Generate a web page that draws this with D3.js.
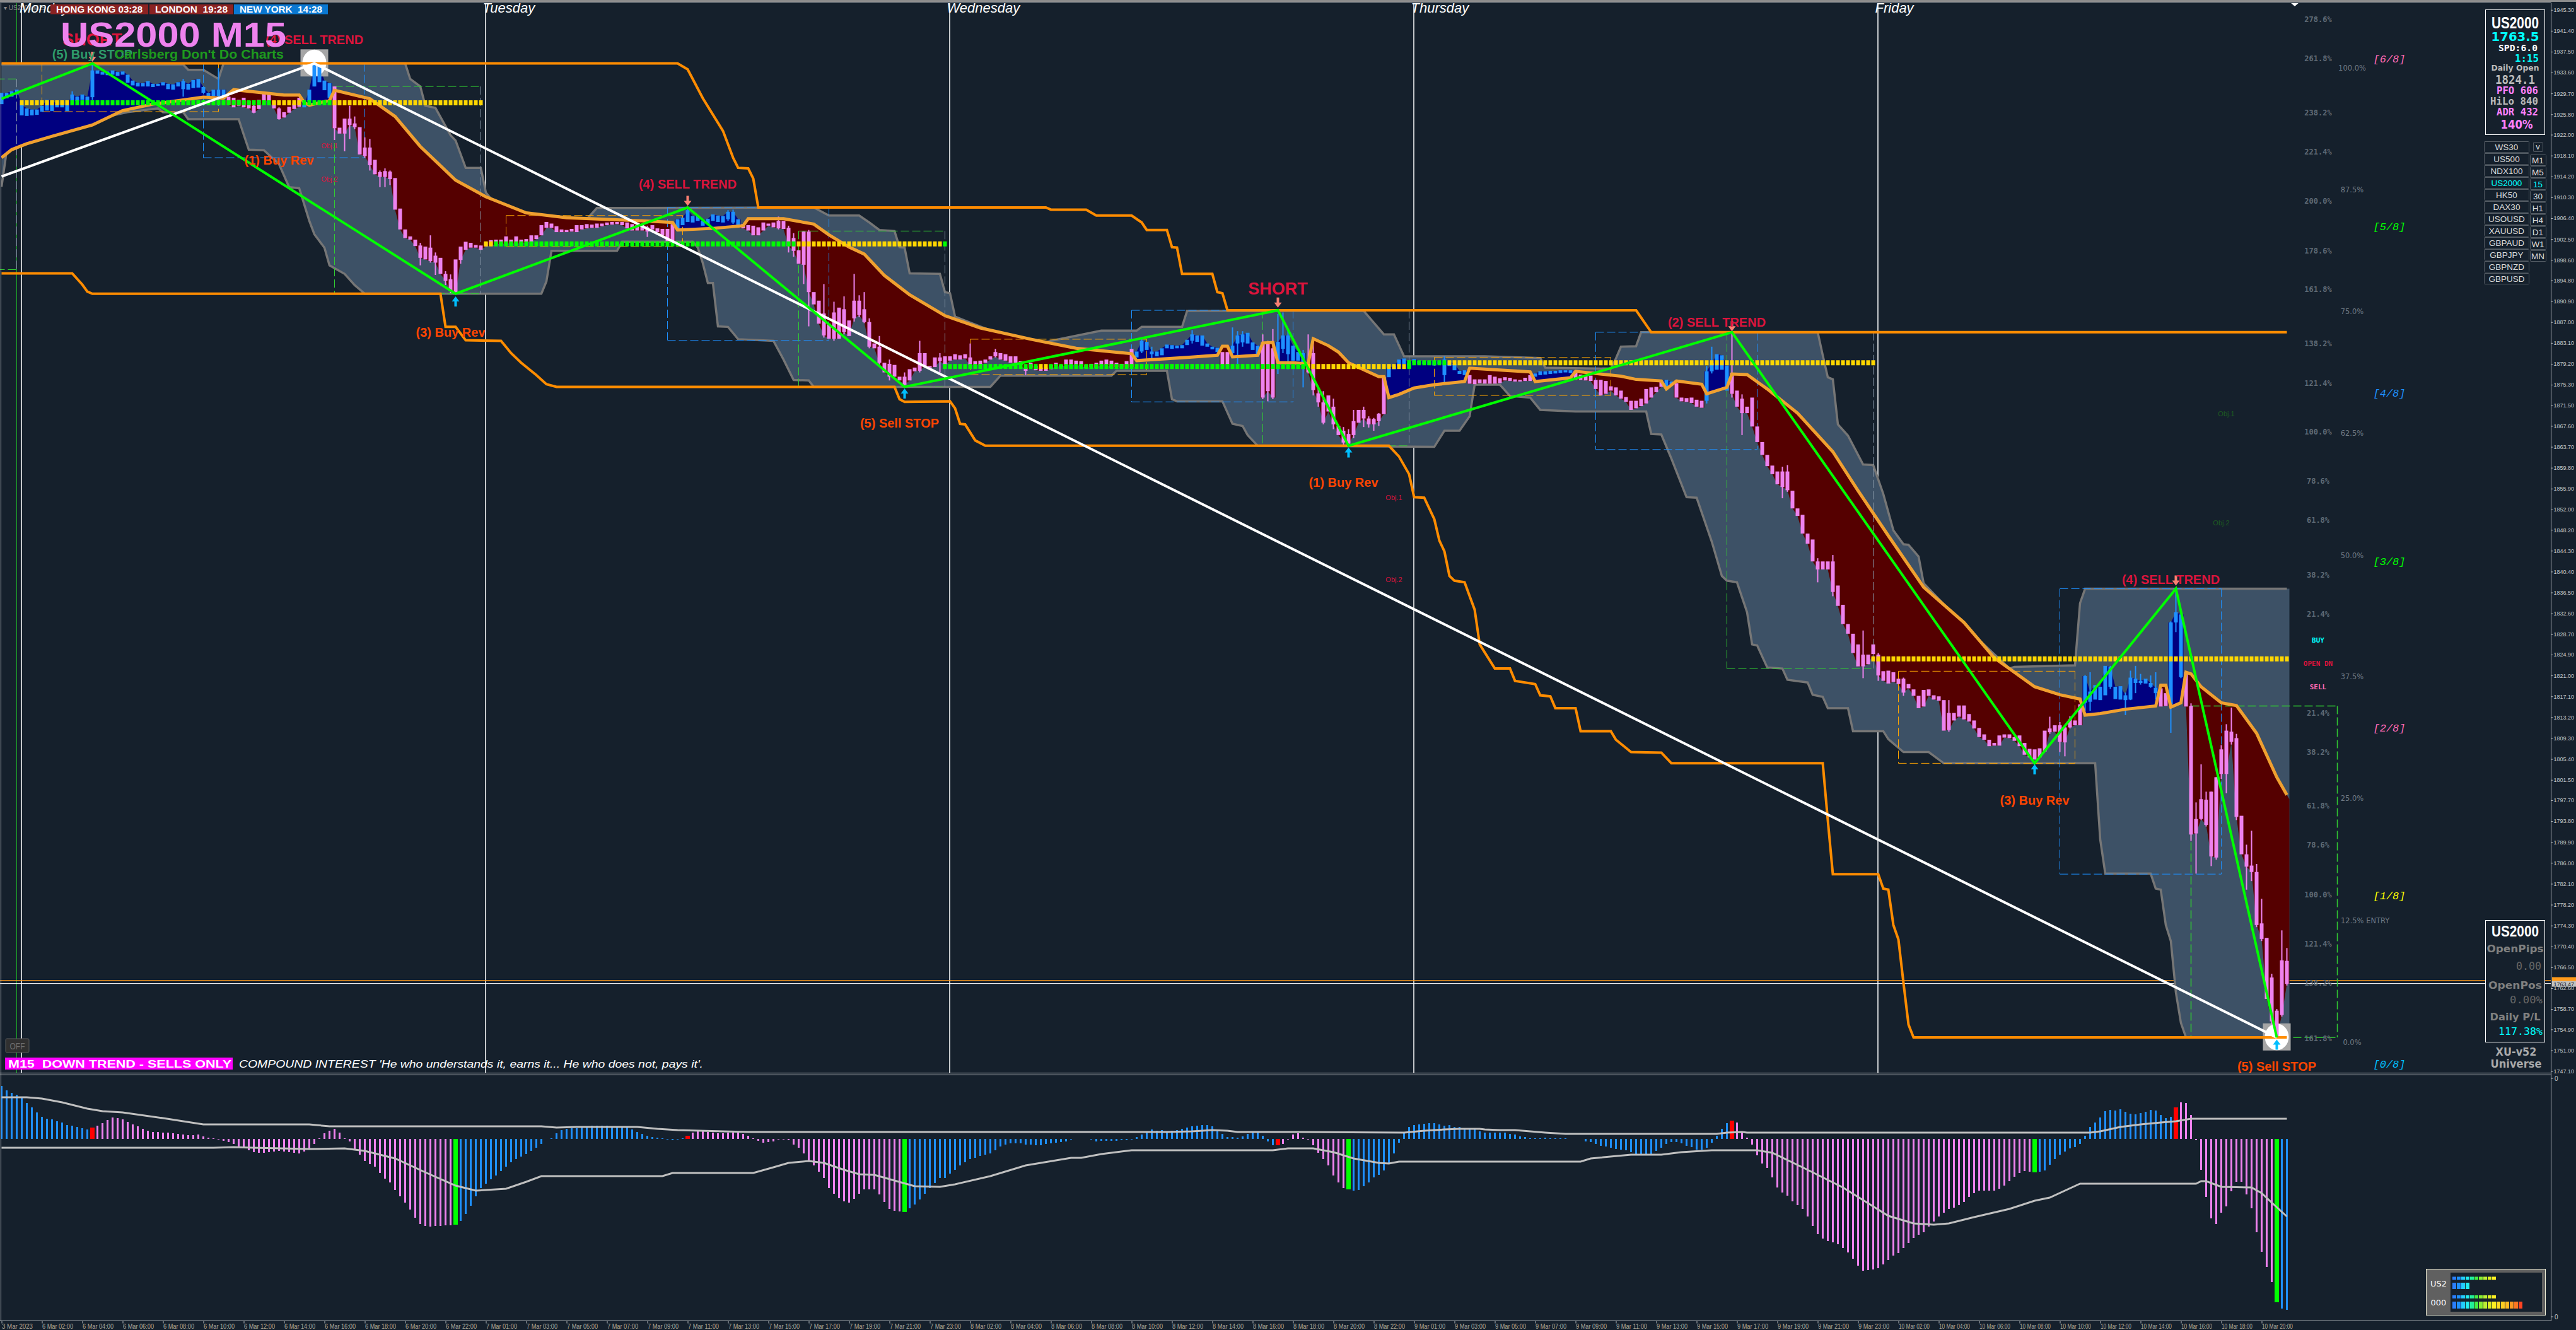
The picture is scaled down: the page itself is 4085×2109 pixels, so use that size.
<!DOCTYPE html>
<html>
<head>
<meta charset="utf-8">
<title>US2000 M15</title>
<script src="https://cdn.jsdelivr.net/npm/d3@7"></script>
<style>
  html, body { margin: 0; padding: 0; background: #15202c; }
  svg { display: block; }
  text { white-space: pre; }
</style>
</head>
<body>
<div id="chart"></div>
<script>
// ---- candles (one per 15 minute bar, 454 bars)
var opens = [1927.7,1928.8,1929.1,1929.5,1925.6,1925.5,1925.6,1925.7,1926.3,1926.5,1926.4,1927.1,1927.1,1926.4,1928.4,1928.3,1928.5,1928.4,1929.0,1933.4,
1933.2,1933.1,1933.2,1933.0,1933.2,1931.7,1931.2,1931.0,1931.0,1931.0,1930.9,1931.1,1931.2,1930.5,1930.4,1931.0,1930.5,1930.4,1930.7,1930.8,
1929.8,1929.1,1929.2,1929.2,1929.2,1929.1,1928.9,1928.5,1928.9,1928.3,1927.4,1928.5,1929.6,1929.5,1928.3,1926.9,1926.2,1927.2,1927.8,1928.9,
1927.1,1928.3,1931.0,1931.8,1930.3,1928.9,1931.0,1923.3,1925.0,1925.0,1924.1,1923.4,1919.6,1919.6,1917.3,1915.0,1915.2,1915.1,1913.9,1908.2,
1904.3,1903.0,1902.4,1901.3,1901.1,1900.9,1899.4,1899.0,1896.0,1895.0,1898.7,1901.1,1902.0,1901.8,1901.4,1901.3,1901.9,1902.3,1902.4,1902.4,
1903.0,1902.4,1903.0,1902.4,1902.5,1903.2,1903.2,1905.1,1905.7,1905.4,1904.9,1904.3,1904.2,1904.4,1905.1,1905.1,1905.3,1905.2,1905.4,1905.4,
1905.6,1905.7,1905.7,1905.7,1905.6,1905.3,1905.1,1905.2,1904.7,1905.1,1904.5,1904.4,1904.4,1905.3,1904.4,1905.1,1905.7,1905.6,1905.9,1905.0,
1905.3,1905.9,1905.7,1905.6,1906.2,1905.6,1905.1,1905.3,1905.1,1905.0,1904.7,1905.6,1905.4,1905.6,1905.9,1905.9,1904.6,1902.7,1900.4,1903.9,
1903.9,1892.6,1891.0,1888.6,1886.7,1888.8,1889.7,1889.4,1887.3,1891.0,1891.0,1889.4,1887.0,1883.0,1882.4,1879.4,1879.2,1879.0,1876.8,1876.8,
1878.2,1878.5,1881.2,1881.2,1878.8,1880.4,1880.4,1880.6,1880.6,1881.0,1880.8,1881.0,1880.4,1879.7,1879.8,1880.0,1880.6,1881.4,1881.2,1881.0,
1880.6,1880.6,1879.7,1878.5,1879.4,1878.8,1878.5,1878.5,1879.0,1879.4,1879.0,1880.0,1880.0,1879.8,1879.7,1879.0,1879.2,1879.4,1879.8,1880.0,
1879.8,1879.4,1879.2,1879.7,1882.0,1880.4,1881.5,1881.8,1881.0,1880.6,1880.8,1882.1,1882.0,1882.1,1882.1,1882.7,1883.5,1883.3,1882.6,1882.4,
1881.9,1881.4,1881.4,1881.4,1881.2,1883.0,1883.2,1883.0,1881.8,1880.8,1883.2,1883.0,1882.1,1879.4,1882.0,1881.0,1879.8,1879.8,1879.2,1879.2,
1881.2,1873.7,1872.0,1873.3,1871.2,1867.6,1866.7,1866.1,1868.5,1870.6,1870.6,1869.0,1868.9,1869.9,1876.8,1876.7,1878.2,1878.8,1879.2,1878.5,
1879.4,1879.2,1879.2,1879.0,1878.9,1879.2,1877.1,1878.8,1878.0,1877.3,1877.1,1877.1,1876.3,1876.3,1876.3,1877.1,1876.8,1876.5,1876.7,1876.6,
1876.3,1876.2,1876.6,1877.1,1876.8,1877.1,1877.2,1877.3,1877.4,1877.5,1877.6,1877.5,1877.9,1877.2,1877.0,1877.0,1876.2,1876.2,1876.0,1875.0,
1874.8,1874.2,1873.0,1872.3,1872.3,1872.7,1874.5,1874.8,1874.9,1876.0,1874.8,1875.3,1875.6,1872.9,1872.8,1872.9,1872.5,1872.3,1872.3,1877.8,
1878.1,1878.1,1874.2,1877.5,1874.2,1872.7,1871.2,1872.9,1867.5,1864.6,1862.2,1860.2,1859.1,1859.1,1859.1,1855.5,1852.2,1851.0,1847.5,1846.4,
1842.3,1842.3,1842.3,1842.3,1837.8,1834.2,1830.6,1828.8,1826.8,1824.9,1824.9,1826.8,1824.9,1821.8,1821.9,1821.6,1820.4,1820.4,1819.4,1818.4,
1817.2,1818.3,1818.4,1817.3,1817.1,1816.4,1814.0,1814.0,1815.4,1815.4,1813.8,1812.6,1811.2,1810.0,1809.0,1808.4,1809.8,1810.0,1810.0,1809.5,
1809.8,1808.4,1807.3,1807.2,1807.4,1810.7,1811.1,1811.7,1811.7,1811.3,1812.8,1812.6,1815.6,1815.9,1816.1,1816.5,1816.4,1817.3,1818.9,1816.6,
1816.5,1816.4,1816.5,1819.6,1819.6,1819.5,1818.9,1817.7,1818.6,1817.7,1815.6,1830.9,1820.7,1821.6,1815.3,1794.2,1797.9,1797.8,1799.3,1802.0,
1807.2,1810.7,1810.5,1809.3,1794.8,1787.6,1785.5,1784.3,1774.7,1772.0,1764.6,1758.4,1767.8,1767.7];
var closes = [1929.8,1929.8,1930.1,1930.4,1927.6,1926.9,1926.7,1926.7,1927.4,1928.5,1928.4,1927.7,1927.5,1927.5,1929.5,1929.1,1929.5,1929.1,1934.0,1934.0,
1933.7,1933.8,1934.0,1933.7,1933.8,1933.2,1932.1,1931.7,1931.6,1932.0,1931.5,1931.5,1931.8,1931.5,1931.4,1931.8,1932.0,1931.5,1932.2,1932.4,
1930.9,1929.8,1930.4,1930.4,1930.4,1927.5,1927.1,1927.4,1927.1,1926.9,1926.1,1926.8,1928.4,1928.3,1926.9,1924.9,1925.2,1926.1,1926.8,1927.2,
1927.5,1930.4,1935.0,1934.8,1932.1,1931.6,1923.2,1922.2,1922.2,1923.8,1923.4,1918.3,1918.0,1916.3,1914.6,1914.1,1914.1,1913.7,1908.0,1904.3,
1902.7,1902.4,1901.2,1899.0,1898.7,1898.4,1898.1,1896.0,1894.7,1892.8,1892.2,1898.6,1900.5,1900.9,1900.9,1900.5,1901.1,1901.3,1901.6,1901.6,
1901.7,1901.7,1901.7,1901.7,1901.9,1902.0,1902.5,1903.2,1904.6,1904.6,1903.8,1903.8,1903.8,1903.9,1903.8,1904.3,1904.5,1904.6,1904.6,1904.9,
1905.1,1905.2,1905.3,1905.1,1904.5,1904.1,1904.1,1904.1,1903.9,1904.3,1903.8,1903.2,1902.1,1902.1,1906.2,1906.5,1907.9,1906.8,1906.8,1905.9,
1906.3,1907.1,1906.9,1906.8,1907.6,1907.6,1906.2,1904.5,1904.1,1903.2,1903.2,1904.1,1905.0,1904.7,1904.5,1904.4,1901.2,1900.3,1897.9,1897.7,
1892.6,1890.3,1886.7,1884.5,1883.9,1883.9,1883.9,1885.1,1884.4,1887.7,1888.3,1887.0,1882.4,1882.1,1879.4,1877.6,1876.8,1876.8,1876.1,1875.3,
1876.1,1877.8,1877.9,1878.8,1878.5,1878.6,1879.7,1879.0,1879.8,1880.0,1880.0,1880.2,1879.0,1879.0,1879.0,1879.4,1880.0,1880.6,1880.0,1879.8,
1879.4,1879.4,1879.0,1877.9,1878.5,1878.0,1877.9,1877.9,1878.2,1878.8,1878.6,1879.0,1879.0,1879.0,1878.8,1878.5,1878.6,1878.5,1879.0,1879.0,
1878.5,1878.6,1878.5,1878.5,1878.6,1881.5,1883.5,1883.3,1881.5,1881.5,1882.1,1882.8,1882.7,1882.6,1882.7,1883.7,1884.7,1884.5,1884.5,1883.0,
1882.4,1882.2,1879.0,1879.0,1882.6,1884.5,1884.7,1885.0,1883.2,1882.6,1872.9,1874.1,1872.9,1883.3,1884.5,1884.5,1882.6,1881.4,1881.2,1877.6,
1874.3,1872.0,1868.2,1870.3,1867.9,1865.9,1864.5,1864.3,1865.9,1868.2,1869.0,1867.9,1867.9,1868.5,1869.8,1878.5,1878.8,1880.0,1880.2,1879.4,
1880.1,1879.8,1879.7,1879.7,1879.8,1879.7,1880.0,1879.7,1879.2,1877.9,1878.0,1875.5,1875.4,1875.6,1875.5,1875.5,1875.5,1875.6,1876.1,1876.0,
1875.9,1875.9,1876.0,1876.0,1877.4,1877.8,1877.8,1877.9,1877.9,1878.0,1878.0,1878.0,1876.2,1876.2,1876.1,1876.0,1874.5,1873.3,1873.6,1874.2,
1873.3,1872.7,1872.1,1870.6,1870.9,1871.3,1871.8,1872.9,1873.9,1874.9,1876.2,1875.9,1872.9,1872.2,1872.1,1871.9,1871.2,1871.0,1877.8,1879.3,
1881.0,1880.8,1878.9,1873.6,1871.2,1870.0,1870.0,1867.5,1864.6,1862.2,1860.1,1858.6,1856.7,1856.2,1855.6,1852.2,1850.8,1847.5,1845.6,1842.3,
1840.8,1840.8,1840.8,1836.6,1834.0,1830.6,1828.8,1825.2,1822.7,1822.7,1823.1,1825.0,1821.0,1820.0,1819.5,1819.8,1819.4,1817.8,1818.6,1817.2,
1814.9,1815.2,1817.2,1816.5,1816.3,1810.7,1810.8,1812.6,1813.3,1812.8,1812.4,1811.1,1809.5,1809.0,1807.8,1807.9,1807.9,1809.4,1809.3,1808.8,
1807.8,1806.2,1805.7,1805.3,1805.7,1806.8,1810.4,1810.5,1808.6,1808.5,1811.3,1811.7,1811.7,1820.9,1818.0,1819.2,1818.9,1822.8,1822.6,1818.9,
1819.0,1817.3,1820.6,1820.4,1820.0,1820.4,1819.6,1818.7,1815.2,1815.3,1830.9,1832.8,1832.4,1815.2,1791.3,1791.5,1794.2,1793.1,1787.2,1787.0,
1802.6,1802.6,1808.6,1794.6,1787.6,1785.3,1784.3,1774.4,1771.8,1760.6,1756.4,1753.4,1757.6,1763.4];

// ---- wicks that stand out from the body
var wickBars = [14,18,36,43,50,55,62,66,68,69,70,72,73,75,76,77,83,85,86,88,89,91,128,133,136,144,145,154,156,157,159,160,163,165,167,169,170,171,172,174,176,179,182,186,192,197,203,226,228,236,244,245,246,250,251,252,253,254,255,258,259,260,261,262,264,266,267,268,270,271,272,273,286,338,339,343,345,353,354,360,363,369,372,377,386,406,408,409,410,413,414,418,421,422,423,424,426,427,430,431,432,434,435,436,437,438,439,440,441,442,443,445,446,447,448,450,451,452,453];
var wickHighs = [1930.1,1935.3,1932.4,1934.4,1927.7,1927.1,1935.3,1931.0,1925.0,1927.4,1925.4,1921.5,1921.2,1915.3,1915.7,1915.3,1901.8,1903.2,1900.0,1896.5,1895.9,1901.1,1905.0,1905.6,1908.3,1907.9,1908.0,1906.7,1905.0,1903.6,1903.9,1904.2,1894.1,1890.8,1891.8,1896.0,1892.0,1892.6,1887.7,1884.4,1880.0,1877.6,1883.5,1881.2,1883.0,1882.0,1878.8,1884.1,1882.4,1885.5,1886.0,1885.3,1885.3,1884.7,1883.5,1885.7,1888.5,1888.8,1885.7,1881.8,1884.7,1884.1,1874.7,1874.1,1872.7,1867.4,1867.0,1870.6,1871.2,1869.4,1869.1,1870.0,1880.6,1878.8,1882.4,1885.1,1873.5,1860.0,1860.3,1842.9,1843.5,1829.4,1825.2,1820.6,1816.4,1813.3,1812.3,1811.7,1813.4,1821.1,1821.6,1822.8,1817.8,1821.9,1822.8,1821.3,1821.0,1821.6,1831.1,1837.2,1832.9,1815.8,1797.3,1804.4,1799.3,1799.3,1802.0,1808.0,1811.9,1815.0,1810.1,1789.4,1792.0,1785.8,1779.3,1765.3,1758.7,1773.4,1770.1];
var wickLows = [1928.4,1928.5,1929.1,1927.4,1926.0,1924.8,1931.0,1921.0,1918.9,1921.2,1923.0,1917.7,1915.3,1912.2,1912.2,1912.6,1897.6,1898.1,1895.8,1893.9,1892.4,1897.9,1902.9,1901.8,1905.7,1905.9,1905.3,1904.3,1900.0,1899.2,1894.1,1886.2,1884.1,1883.5,1884.7,1887.1,1887.9,1886.8,1882.1,1879.1,1876.1,1874.9,1877.6,1877.6,1878.8,1880.4,1877.1,1881.2,1880.2,1883.0,1881.0,1879.2,1882.4,1872.6,1872.2,1872.6,1877.3,1881.2,1878.2,1874.8,1877.4,1873.3,1871.2,1867.9,1867.0,1864.1,1863.9,1865.3,1867.4,1867.3,1866.7,1867.6,1875.3,1871.8,1877.4,1872.9,1865.9,1854.1,1855.3,1838.4,1835.8,1820.5,1820.0,1817.2,1810.5,1810.1,1806.7,1805.9,1811.1,1814.4,1814.4,1818.5,1813.6,1816.4,1817.7,1819.3,1818.7,1816.5,1810.3,1829.1,1820.5,1790.1,1784.0,1794.0,1792.8,1785.4,1786.6,1801.7,1799.0,1808.1,1794.0,1781.0,1782.6,1774.0,1771.4,1755.7,1753.4,1757.3,1763.1];

// ---- trend runs, colour flips at each start bar, first run is up
var trendStarts = [0,45,60,66,134,147,225,242,244,250,253,259,275,291,304,312,330,332,338,343,413,428,430,433];

// ---- moving average
var maBars = [0,2,5,10,18,24,30,40,44,46,56,59,60,61,65,66,73,78,83,90,96,104,112,125,133,134,141,147,148,155,161,164,168,171,175,180,187,194,204,213,224,225,235,241,242,243,244,249,250,252,253,256,259,260,263,265,267,273,274,275,277,280,284,290,291,303,304,311,312,321,324,329,330,332,337,338,342,343,346,350,356,363,368,374,381,389,395,403,408,412,413,416,421,427,428,429,430,432,433,434,436,440,443,447,451,453];
var maVals = [1917.7,1919.2,1920.3,1921.7,1923.8,1926.5,1927.7,1929.0,1928.8,1930.4,1929.4,1929.4,1928.0,1927.5,1928.4,1930.3,1928.7,1925.4,1919.8,1913.5,1910.4,1907.4,1906.5,1906.0,1905.6,1904.2,1904.5,1905.0,1906.3,1906.3,1905.3,1903.3,1901.0,1899.7,1895.7,1892.1,1888.2,1885.9,1883.8,1882.1,1881.1,1879.8,1880.4,1880.8,1882.5,1882.5,1880.5,1880.8,1883.1,1883.2,1879.4,1879.4,1879.2,1883.9,1882.6,1881.4,1879.4,1876.8,1876.8,1872.9,1873.5,1874.7,1875.3,1875.9,1878.4,1877.7,1875.9,1876.6,1877.8,1876.9,1876.3,1876.0,1874.5,1876.0,1875.4,1873.6,1874.8,1877.3,1877.2,1874.5,1870.0,1862.8,1855.5,1847.1,1837.5,1830.9,1824.3,1818.9,1817.4,1816.6,1813.6,1813.9,1814.7,1815.3,1819.2,1819.2,1815.1,1815.9,1821.6,1821.3,1818.9,1815.9,1815.4,1810.2,1802.0,1798.7];

// ---- short channel (grey band)
var bandUpBars = [0,36,37,40,43,44,80,81,83,84,86,89,90,92,95,96,98,104,110,116,118,161,164,170,172,174,177,178,179,180,186,187,188,189,198,205,208,218,225,226,234,235,270,274,276,278,294,305,306,319,320,321,324,325,360,361,362,363,364,366,369,371,373,375,377,378,380,381,390,398,399,411,412,413,453];
var bandUpVals = [1935.1,1935.1,1934.1,1934.1,1932.4,1935.3,1935.3,1932.4,1931.0,1927.4,1927.0,1921.9,1920.9,1915.8,1915.8,1911.2,1908.9,1907.3,1906.2,1906.2,1908.3,1908.4,1906.9,1906.9,1905.6,1904.2,1904.0,1901.0,1900.9,1896.1,1896.0,1892.6,1892.4,1888.0,1884.7,1882.6,1883.5,1885.4,1885.4,1886.1,1886.1,1889.1,1889.1,1884.7,1884.7,1880.6,1880.6,1880.3,1878.5,1878.3,1880.2,1882.4,1882.5,1885.1,1885.1,1880.8,1876.7,1876.3,1867.9,1865.8,1860.4,1860.3,1854.9,1848.1,1845.5,1845.4,1843.2,1838.2,1829.4,1822.3,1822.6,1822.9,1834.5,1837.2,1837.2];
var bandLowBars = [0,1,3,21,25,31,32,36,37,47,48,49,52,55,57,59,61,62,64,65,68,70,72,107,108,109,122,123,137,138,139,140,141,142,144,146,153,155,157,160,161,196,198,220,221,231,232,233,242,244,246,247,249,284,286,289,291,292,297,299,303,305,312,326,327,329,331,334,336,339,341,342,344,346,347,348,350,353,354,358,359,361,362,366,367,373,374,377,382,385,415,416,417,426,427,428,429,430,431,432,433,453];
var bandLowVals = [1912.3,1918.9,1920.6,1925.4,1926.2,1926.9,1926.2,1926.2,1924.9,1924.9,1922.0,1919.2,1919.1,1916.5,1912.2,1912.0,1905.9,1903.4,1900.9,1897.6,1896.0,1893.9,1892.3,1892.3,1894.6,1900.3,1900.3,1902.0,1902.0,1900.9,1898.0,1894.3,1894.3,1886.2,1886.1,1883.8,1883.5,1880.0,1876.2,1876.1,1874.9,1874.9,1877.0,1877.0,1877.9,1877.9,1872.6,1872.2,1872.2,1868.0,1867.6,1865.9,1863.9,1863.7,1866.7,1866.7,1869.4,1875.3,1875.3,1873.2,1872.9,1870.6,1870.3,1870.3,1866.1,1866.0,1861.5,1854.3,1854.2,1846.0,1839.6,1838.7,1838.4,1832.8,1826.8,1826.6,1822.5,1822.3,1820.2,1819.7,1817.4,1817.0,1814.9,1814.9,1810.6,1810.6,1809.1,1806.7,1806.7,1804.6,1804.6,1790.4,1784.0,1784.0,1781.2,1781.0,1774.4,1771.4,1761.8,1756.1,1753.4,1753.4];

// ---- long channel (orange)
var chanUpBars = [0,134,136,139,143,145,146,148,149,150,207,208,215,217,224,226,227,231,232,233,234,240,241,242,243,324,327,453];
var chanUpVals = [1935.3,1935.3,1934.2,1928.8,1922.7,1917.7,1915.8,1915.7,1913.8,1908.4,1908.4,1908.0,1908.0,1906.9,1906.9,1905.6,1904.2,1904.2,1901.0,1900.9,1896.0,1896.0,1892.6,1892.4,1889.2,1889.2,1885.1,1885.1];
var chanLowBars = [0,14,16,17,18,87,88,90,92,99,101,103,106,108,110,177,178,179,188,189,190,191,193,195,275,277,279,280,282,284,285,286,287,288,290,292,293,296,299,300,304,305,307,308,312,313,319,320,323,329,331,361,362,363,372,373,374,375,376,377,378,379,453];
var chanLowVals = [1896.1,1896.1,1894.0,1892.7,1892.3,1892.3,1886.1,1886.1,1883.6,1883.5,1881.2,1879.4,1877.1,1875.4,1874.9,1874.9,1872.6,1872.1,1872.2,1870.9,1868.0,1867.9,1864.9,1863.9,1863.9,1861.9,1858.6,1854.3,1854.2,1850.2,1846.2,1844.2,1839.6,1838.7,1838.4,1833.3,1826.8,1822.3,1822.3,1820.0,1819.4,1817.3,1817.1,1814.9,1814.9,1810.6,1810.6,1809.0,1806.7,1806.6,1804.6,1804.6,1794.0,1783.9,1783.9,1781.2,1781.0,1774.4,1771.7,1763.6,1755.8,1753.4,1753.4];

// ---- zigzag and the long white trend
var zigBars = [0,18,90,136,179,253,267,343,403,431,451];
var zigVals = [1928.7,1935.3,1892.3,1908.4,1874.9,1889.2,1863.9,1885.1,1804.6,1837.2,1753.4];
var trendBars = [0,62,451];
var trendVals = [1914.2,1935.3,1753.4];

// ---- daily open dots
var openStart = [4,96,187,279,371];
var openEnd = [95,187,279,371,453];
var openPrice = [1927.95,1901.6,1878.7,1879.4,1824.1];
var limeFrom = [14,60,98,187,208,279];
var limeTo = [53,65,157,205,258,286];

// ---- dashed swing boxes
var boxLeft = [-10,8,40,66,100,132,158,192,224,250,284,316,342,376,408,434];
var boxRight = [3,43,72,95,135,164,187,227,256,279,319,348,371,411,440,463];
var boxTop = [1932.4,1935.3,1935.3,1931.0,1906.9,1908.4,1904.0,1883.8,1889.2,1889.2,1880.4,1885.1,1885.1,1821.8,1837.2,1815.3];
var boxBottom = [1896.8,1926.3,1917.7,1892.3,1901.1,1883.6,1874.9,1877.2,1872.1,1863.9,1873.3,1863.2,1822.3,1804.6,1783.9,1753.4];
var boxType = ["green","orange","blue","green","orange","blue","green","orange","blue","green","orange","blue","green","orange","blue","green"];

// ---- chart annotations
var noteText = ["SHORT","(4) SELL TREND","(5) Buy STOP","(1) Buy Rev","(3) Buy Rev","(4) SELL TREND","SHORT","(5) Sell STOP","(1) Buy Rev","(2) SELL TREND","(3) Buy Rev","(4) SELL TREND","(5) Sell STOP"];
var noteBar = [18,62,18,55,89,136,253,178,266,340,403,430,451];
var notePrice = [1938.7,1938.9,1936.2,1916.4,1884.2,1911.9,1892.1,1867.3,1856.2,1886.1,1796.9,1838.1,1747.2];
var noteColor = ["#dc143c","#dc143c","#2e9a6a","#ff4500","#ff4500","#dc143c","#dc143c","#ff4500","#ff4500","#dc143c","#ff4500","#dc143c","#ff4500"];
var downBars = [18,136,253,343,431];
var downPrices = [1935.6,1908.7,1889.7,1885.3,1837.8];
var upBars = [90,179,267,403,451];
var upPrices = [1891.8,1874.6,1863.6,1804.4,1753.0];
var iconBars = [62,451];
var iconPrices = [1935.4,1753.5];

// ---- fibonacci and octave labels on the right
var fibText = ["278.6%","261.8%","238.2%","221.4%","200.0%","178.6%","161.8%","138.2%","121.4%","100.0%","78.6%","61.8%","38.2%","21.4%","21.4%","38.2%","61.8%","78.6%","100.0%","121.4%","138.2%","161.8%"];
var fibPrice = [1943.5,1936.2,1926.1,1918.8,1909.6,1900.3,1893.1,1883.0,1875.6,1866.5,1857.3,1850.0,1839.7,1832.4,1814.0,1806.7,1796.6,1789.3,1780.0,1770.8,1763.5,1753.2];
var pctText = ["100.0%","87.5%","75.0%","62.5%","50.0%","37.5%","25.0%","0.0%"];
var pctPrice = [1934.4,1911.7,1889.0,1866.2,1843.4,1820.8,1798.0,1752.5];
var octText = ["[6/8]","[5/8]","[4/8]","[3/8]","[2/8]","[1/8]","[0/8]"];
var octPrice = [1936.2,1904.9,1873.8,1842.3,1811.2,1779.9,1748.5];
var octColor = ["#ff69b4","#00ff00","#1e90ff","#00ff00","#ff69b4","#ffff00","#00bfff"];
var sigText = ["BUY","OPEN DN","SELL"];
var sigPrice = [1827.6,1823.2,1818.9];
var sigColor = ["#00ffff","#dc143c","#ff69b4"];
var objText = ["Obj.1","Obj.2","Obj.1","Obj.2","Obj.1","Obj.2"];
var objBar = [65,65,276,276,441,440];
var objPrice = [1919.5,1913.2,1853.8,1838.5,1869.4,1849.0];
var objColor = ["#dc143c","#dc143c","#dc143c","#dc143c","#1d5a22","#1d5a22"];

var bid = 1763.47, ask = 1764.07;

// ---- axis labels
var priceTicks = [1945.30,1941.40,1937.50,1933.60,1929.70,1925.80,1922.00,1918.10,1914.20,1910.30,1906.40,1902.50,1898.60,1894.80,1890.90,1887.00,1883.10,1879.20,1875.30,1871.50,1867.60,1863.70,1859.80,1855.90,1852.00,1848.20,1844.30,1840.40,1836.50,1832.60,1828.70,1824.90,1821.00,1817.10,1813.20,1809.30,1805.40,1801.50,1797.70,1793.80,1789.90,1786.00,1782.10,1778.20,1774.30,1770.40,1766.50,1762.60,1758.70,1754.90,1751.00,1747.10];
var timeTicks = ["3 Mar 2023","6 Mar 02:00","6 Mar 04:00","6 Mar 06:00","6 Mar 08:00","6 Mar 10:00","6 Mar 12:00","6 Mar 14:00","6 Mar 16:00","6 Mar 18:00","6 Mar 20:00","6 Mar 22:00",
"7 Mar 01:00","7 Mar 03:00","7 Mar 05:00","7 Mar 07:00","7 Mar 09:00","7 Mar 11:00","7 Mar 13:00","7 Mar 15:00","7 Mar 17:00","7 Mar 19:00","7 Mar 21:00","7 Mar 23:00",
"8 Mar 02:00","8 Mar 04:00","8 Mar 06:00","8 Mar 08:00","8 Mar 10:00","8 Mar 12:00","8 Mar 14:00","8 Mar 16:00","8 Mar 18:00","8 Mar 20:00","8 Mar 22:00",
"9 Mar 01:00","9 Mar 03:00","9 Mar 05:00","9 Mar 07:00","9 Mar 09:00","9 Mar 11:00","9 Mar 13:00","9 Mar 15:00","9 Mar 17:00","9 Mar 19:00","9 Mar 21:00","9 Mar 23:00",
"10 Mar 02:00","10 Mar 04:00","10 Mar 06:00","10 Mar 08:00","10 Mar 10:00","10 Mar 12:00","10 Mar 14:00","10 Mar 16:00","10 Mar 18:00","10 Mar 20:00"];
var dayNames = ["Monday","Tuesday","Wednesday","Thursday","Friday"];
var dayBars = [4,96,188,280,372];

// ---- oscillator histogram (one per bar) and its two signal lines
var histValues = [84,77,73,70,66,57,50,42,35,32,31,28,26,22,21,19,17,15,18,21,25,30,34,33,31,27,23,20,16,13,11,11,10,10,9,8,7,6,6,7,4,2,1,-1,-3,-5,-8,-12,-14,-18,
-21,-22,-22,-21,-20,-19,-20,-21,-22,-23,-20,-17,-8,1,9,13,16,10,1,-4,-18,-25,-35,-40,-44,-54,-63,-69,-81,-91,-101,-112,-125,-135,-138,-139,-138,-138,-137,-137,
-136,-130,-119,-106,-91,-78,-71,-64,-58,-51,-44,-37,-32,-28,-24,-19,-14,-8,0,1,9,14,16,17,17,19,20,21,21,21,21,20,20,19,18,15,11,8,5,3,2,1,-1,-2,-1,1,5,10,
12,12,11,10,9,9,10,10,10,8,5,1,-3,-6,-5,-4,-1,-1,-2,-9,-14,-23,
-34,-42,-52,-62,-78,-87,-94,-99,-101,-95,-87,-80,-80,-80,-88,-100,-111,-114,-115,-116,
-110,-104,-96,-87,-78,-70,-62,-62,-55,-49,-42,-37,-32,-30,-27,-25,-23,-18,-12,-9,-7,-7,-7,-9,-9,-10,-10,-8,-7,-6,-5,-4,-1,0,0,0,-1,-4,-3,-3,-3,-3,-2,-2,-1,
3,7,12,15,13,14,12,13,14,16,18,20,21,22,22,20,14,8,3,3,2,4,8,10,10,5,-4,-10,-10,-8,-1,7,9,2,-1,-10,-22,-32,-42,-58,-69,-78,-80,
-82,-81,-75,-69,-61,-57,-50,-39,-23,-6,9,19,22,23,24,25,25,23,21,22,19,19,17,17,16,12,10,10,10,10,10,8,
7,4,3,1,1,1,2,1,1,1,1,0,0,0,-4,-5,-8,-11,-12,-14,-16,-17,-18,-21,-24,-24,-24,-24,-19,-14,-8,-5,-5,-7,-11,-13,-17,-17,-14,-6,5,16,25,29,26,10,2,-9,-26,-39,-46,-61,-77,-85,-90,-99,-105,-111,-123,-138,-151,-158,-162,-164,-167,-173,-180,-190,-201,-209,-208,-207,-205,-199,-192,-185,-181,-173,-165,-157,-152,-148,-139,-131,-123,-117,-111,-109,-105,-100,-92,-86,-82,-82,-82,-82,-79,-74,-67,-60,-54,-51,-52,-53,-52,-50,-41,-32,-25,-20,-15,-13,-8,5,19,26,34,44,46,45,47,43,40,39,41,43,46,45,38,33,35,50,58,57,38,-2,-49,-92,-126,-135,-117,-107,-83,-68,-68,-88,-110,-148,-179,-203,-227,-259,-269,-271];
var redBars = [18,136,253,343,431];
var greenBars = [90,179,267,403,451];
var sigUpBars = [0,5,8,12,17,20,24,32,40,61,65,107,110,114,126,130,134,143,148,213,231,236,240,243,245,257,278,282,286,289,293,294,297,300,303,306,310,340,342,345,346,414,416,420,424,428,431,434,453];
var sigUpVals = [66,66,64,58,48,44,42,33,23,23,20,20,18,19,19,16,14,12,11,11,11,12,14,13,11,11,10,13,15,16,16,15,14,14,12,10,8,8,10,11,10,10,12,19,23,26,28,32,32];
var sigLowBars = [0,42,46,50,61,68,72,78,84,90,94,100,104,107,131,133,149,153,156,160,163,167,170,173,177,181,186,189,196,203,212,214,218,224,252,255,260,264,268,273,275,277,313,315,323,329,333,339,348,351,358,365,374,379,383,386,391,398,403,406,412,435,436,437,440,446,448,450,453];
var sigLowVals = [-14,-14,-13,-14,-16,-15,-19,-31,-53,-74,-82,-79,-68,-59,-59,-54,-54,-45,-38,-35,-38,-49,-56,-57,-66,-75,-76,-72,-59,-42,-30,-30,-24,-18,-18,-15,-15,-21,-31,-38,-39,-36,-36,-31,-25,-25,-21,-18,-18,-22,-49,-77,-122,-134,-136,-134,-124,-111,-98,-93,-71,-71,-67,-67,-76,-77,-86,-101,-123];

// ---- side panel lists
var symbols = ["WS30","US500","NDX100","US2000","HK50","DAX30","USOUSD","XAUUSD","GBPAUD","GBPJPY","GBPNZD","GBPUSD"];
var periods = ["M1","M5","15","30","H1","H4","D1","W1","MN"];
var meterColors = ["#2a7fff","#1e90ff","#22ccff","#22eeee","#22ee99","#44ee44","#88ee33","#bbee33","#ddee22","#ffee22","#ffdd22","#ffcc22","#ffbb22","#ff9922","#ff7722","#ff4422"];
var meterCounts = [10,4,10,16];

var width = 4085, height = 2109;
var sans = "'Liberation Sans', Arial, sans-serif", mono = "'DejaVu Sans Mono', monospace", deja = "'DejaVu Sans', Verdana, sans-serif";

var svg = d3.select("#chart").append("svg").attr("width", width).attr("height", height);

var x = d3.scaleLinear().domain([0, 453]).range([2.5, 3626.5]);
var y = d3.scaleLinear().domain([1945.3, 1747.1]).range([15.7, 1698.6]);
var h = d3.scaleLinear().domain([102, -288.6]).range([1704, 2094.6]);
var maAt = d3.scaleLinear().domain(maBars).range(maVals);

function polyline(bars, vals, scale) {
  return d3.line().x(function(d) { return x(d); }).y(function(d, i) { return (scale || y)(vals[i]); })(bars);
}

function text(g, str, px, py, size, fill, opt) {
  opt = opt || {};
  var t = g.append("text").text(str)
    .attr("x", px).attr("y", py)
    .attr("font-size", size).attr("fill", fill)
    .attr("font-family", opt.font || sans)
    .attr("font-weight", opt.weight || "normal")
    .attr("font-style", opt.italic ? "italic" : "normal")
    .attr("text-anchor", opt.anchor || "start");
  if (opt.len) t.attr("textLength", opt.len).attr("lengthAdjust", "spacingAndGlyphs");
  return t;
}

// background and frame
svg.append("rect").attr("width", width).attr("height", height).attr("fill", "#15202c");
svg.append("rect").attr("width", width).attr("height", 3).attr("fill", "#8c8c8c");

// day separators, behind everything else
svg.append("g").selectAll("line").data(dayBars).enter().append("line")
  .attr("x1", function(d) { return x(d) - 0.5; }).attr("x2", function(d) { return x(d) - 0.5; })
  .attr("y1", 4).attr("y2", 1701).attr("stroke", "#ffffff").attr("stroke-width", 1.5);
svg.append("line").attr("x1", 26.5).attr("x2", 26.5).attr("y1", 4).attr("y2", 1701).attr("stroke", "#1fae2a");

// bid and ask
[[ask, "#ff9a1a"], [bid, "#ffffff"]].forEach(function(l) {
  svg.append("line").attr("x1", 0).attr("x2", 4046).attr("y1", y(l[0])).attr("y2", y(l[0])).attr("stroke", l[1]).attr("stroke-width", 1);
});

// grey band
var bandPts = bandUpBars.map(function(b, i) { return [x(b), y(bandUpVals[i])]; });
bandPts.push([x(453.5), y(bandUpVals[bandUpVals.length - 1])]);
bandPts.push([x(453.5), y(bandLowVals[bandLowVals.length - 1])]);
bandLowBars.slice().reverse().forEach(function(b, i) {
  bandPts.push([x(b), y(bandLowVals[bandLowVals.length - 1 - i])]);
});
svg.append("path").attr("d", d3.line()(bandPts) + "Z").attr("fill", "#3d5166");
svg.append("path").attr("d", polyline(bandUpBars, bandUpVals)).attr("fill", "none").attr("stroke", "#767676").attr("stroke-width", 3.5);
svg.append("path").attr("d", polyline(bandLowBars, bandLowVals)).attr("fill", "none").attr("stroke", "#767676").attr("stroke-width", 3.5);

// trend fill between close and the average
trendStarts.forEach(function(start, k) {
  var end = k + 1 < trendStarts.length ? trendStarts[k + 1] - 1 : 453;
  var pts = [{ b: start - 0.5, c: closes[start] }];
  for (var i = start; i <= end; i++) pts.push({ b: i, c: closes[i] });
  pts.push({ b: end + 0.5, c: closes[end] });
  var area = d3.area()
    .x(function(d) { return x(d.b); })
    .y0(function(d) { return y(maAt(d.b)); })
    .y1(function(d) { return y(d.c); });
  svg.append("path").attr("d", area(pts)).attr("fill", k % 2 === 0 ? "#000080" : "#550000");
});

// dashed boxes
var boxColor = { green: "#32cd32", orange: "#ffa500", blue: "#1e90ff" };
boxLeft.forEach(function(l, i) {
  var c = boxColor[boxType[i]], x0 = x(l), x1 = x(boxRight[i]), y0 = y(boxTop[i]), y1 = y(boxBottom[i]);
  var rightCol = boxType[i] === "green" && i < 15 ? "#8696a6" : c;
  [[x0, y0, x1, y0, c], [x0, y1, x1, y1, c], [x0, y0, x0, y1, c], [x1, y0, x1, y1, rightCol]].forEach(function(s) {
    svg.append("line").attr("x1", s[0]).attr("y1", s[1]).attr("x2", s[2]).attr("y2", s[3])
      .attr("stroke", s[4]).attr("stroke-width", i === 15 ? 1.5 : 1).attr("stroke-dasharray", "13,5");
  });
});

// round icons at the two big reversals
iconBars.forEach(function(b, i) {
  svg.append("rect").attr("x", x(b) - 22).attr("y", y(iconPrices[i]) - 21.5).attr("width", 44).attr("height", 43).attr("fill", "#a6a6a6");
  svg.append("ellipse").attr("cx", x(b)).attr("cy", y(iconPrices[i])).attr("rx", 19).attr("ry", 21).attr("fill", "#ffffff");
});

// candles
var isUp = d3.range(454).map(function(i) { return d3.bisectRight(trendStarts, i) % 2 === 1; });
var candleColor = function(i) { return isUp[i] ? "#1e90ff" : "#ee82ee"; };
svg.append("g").selectAll("line").data(wickBars).enter().append("line")
  .attr("x1", function(d) { return x(d); }).attr("x2", function(d) { return x(d); })
  .attr("y1", function(d, i) { return y(wickHighs[i]); })
  .attr("y2", function(d, i) { return y(wickLows[i]); })
  .attr("stroke", function(d) { return candleColor(d); }).attr("stroke-width", 2);
svg.append("g").selectAll("rect").data(d3.range(454)).enter().append("rect")
  .attr("x", function(d) { return x(d) - 3; })
  .attr("width", 6)
  .attr("y", function(d) { return y(Math.max(opens[d], closes[d])); })
  .attr("height", function(d) { return Math.max(1, Math.abs(y(opens[d]) - y(closes[d]))); })
  .attr("fill", function(d) { return candleColor(d); });

// long channel, average
svg.append("path").attr("d", polyline(chanUpBars, chanUpVals)).attr("fill", "none").attr("stroke", "#ff8c00").attr("stroke-width", 4);
svg.append("path").attr("d", polyline(chanLowBars, chanLowVals)).attr("fill", "none").attr("stroke", "#ff8c00").attr("stroke-width", 4);
svg.append("path").attr("d", polyline(maBars, maVals)).attr("fill", "none").attr("stroke", "#f0a030").attr("stroke-width", 5);

// daily open dots
openStart.forEach(function(s, k) {
  svg.append("g").selectAll("rect").data(d3.range(s, openEnd[k] + 1)).enter().append("rect")
    .attr("x", function(d) { return x(d) - 3; })
    .attr("y", y(openPrice[k]) - 4)
    .attr("width", 6).attr("height", 8)
    .attr("fill", function(d) {
      var lime = limeFrom.some(function(f, j) { return d >= f && d <= limeTo[j]; });
      return lime ? "#00ff00" : "#ffd700";
    });
});

// trend and zigzag
svg.append("path").attr("d", polyline(trendBars, trendVals)).attr("fill", "none").attr("stroke", "#ffffff").attr("stroke-width", 4);
svg.append("path").attr("d", polyline(zigBars, zigVals)).attr("fill", "none").attr("stroke", "#00ff00").attr("stroke-width", 4);

// arrows
function arrow(bar, price, dir, col) {
  var px = x(bar), py = y(price);
  svg.append("path")
    .attr("d", "M" + px + "," + py + "l-6," + (dir * 8) + "l4,0l0," + (dir * 8) + "l4,0l0," + (-dir * 8) + "l4,0Z")
    .attr("fill", col);
}
downBars.forEach(function(b, i) { arrow(b, downPrices[i], -1, "#fa8072"); });
upBars.forEach(function(b, i) { arrow(b, upPrices[i], 1, "#00bfff"); });

// annotations
noteText.forEach(function(t, i) {
  var big = t === "SHORT";
  text(svg, t, x(noteBar[i]), y(notePrice[i]), big ? 27 : 20, noteColor[i], { weight: "bold", anchor: "middle" });
});
objText.forEach(function(t, i) {
  text(svg, t, x(objBar[i]), y(objPrice[i]), 11, objColor[i], { anchor: "middle" });
});

// title block
text(svg, "US2000 M15", 96, 74, 56, "#ee82ee", { weight: "bold", len: 358 });
text(svg, "Carlsberg Don't Do Charts", 182, 93, 20, "#1e9a1e", { weight: "bold", len: 268 });

// top left clocks
text(svg, "\u25be US2000,M15", 6, 16, 10, "#8a8a8a");
text(svg, "Monday", 31, 20, 22, "#ffffff", { italic: true });
dayNames.slice(1).forEach(function(d, i) {
  text(svg, d, x(dayBars[i + 1]) - 5, 20, 22, "#ffffff", { italic: true });
});
var clockText = ["HONG KONG 03:28", "LONDON  19:28", "NEW YORK  14:28"];
var clockX = [80, 237, 371], clockW = [155, 133, 149], clockFill = ["#8b2222", "#8b2222", "#0a78d2"];
clockText.forEach(function(c, i) {
  svg.append("rect").attr("x", clockX[i]).attr("y", 7).attr("width", clockW[i]).attr("height", 15.5).attr("fill", clockFill[i]);
  text(svg, c, clockX[i] + 9, 20, 15, "#ffffff", { weight: "bold", len: clockW[i] - 18 });
});

// banner and off button
svg.append("rect").attr("x", 9).attr("y", 1647).attr("width", 37).attr("height", 22).attr("rx", 2).attr("fill", "#303030").attr("stroke", "#5a5a5a");
text(svg, "OFF", 27.5, 1664, 15, "#6e6e6e", { anchor: "middle", len: 24 });
svg.append("rect").attr("x", 8).attr("y", 1677).attr("width", 361).attr("height", 19).attr("fill", "#ff00ff");
text(svg, "M15  DOWN TREND - SELLS ONLY", 13, 1693, 17, "#ffffff", { weight: "bold", len: 354 });
text(svg, "COMPOUND INTEREST 'He who understands it, earns it... He who does not, pays it'.", 379, 1693, 17, "#ffffff", { italic: true, len: 736 });

// fib and octave columns
var fibX = 3676;
fibText.forEach(function(t, i) {
  text(svg, t, fibX, y(fibPrice[i]) + 4, 12, "#5f6a75", { font: mono, weight: "bold", anchor: "middle" });
});
pctText.forEach(function(t, i) {
  text(svg, t, 3730, y(pctPrice[i]) + 4, 11.5, "#707a84", { font: deja, anchor: "middle" });
});
text(svg, "12.5% ENTRY", 3712, y(1775.2) + 4, 11.5, "#707a84", { font: deja });
octText.forEach(function(t, i) {
  text(svg, t, 3789, y(octPrice[i]) + 6, 17, octColor[i], { font: "'Liberation Mono', monospace", italic: true, anchor: "middle" });
});
sigText.forEach(function(t, i) {
  text(svg, t, fibX, y(sigPrice[i]) + 4, 11, sigColor[i], { font: mono, weight: "bold", anchor: "middle" });
});
svg.append("path").attr("d", "M3632,4L3646,4L3639,10Z").attr("fill", "#ffffff");

// oscillator panel
svg.append("g").selectAll("rect").data(histValues).enter().append("rect")
  .attr("x", function(d, i) { return x(i) - (redBars.indexOf(i) >= 0 || greenBars.indexOf(i) >= 0 ? 3.5 : 1.5); })
  .attr("width", function(d, i) { return redBars.indexOf(i) >= 0 || greenBars.indexOf(i) >= 0 ? 7 : 3; })
  .attr("y", function(d) { return Math.min(h(d), h(0)); })
  .attr("height", function(d) { return Math.abs(h(d) - h(0)); })
  .attr("fill", function(d, i) {
    if (redBars.indexOf(i) >= 0) return "#ff0000";
    if (greenBars.indexOf(i) >= 0) return "#00ff00";
    // blue after a green bar, violet after a red one
    var lastRed = d3.max(redBars.filter(function(b) { return b <= i; })), lastGreen = d3.max(greenBars.filter(function(b) { return b <= i; }));
    if (lastRed === undefined) return "#1e90ff";
    if (lastGreen === undefined) return "#ee82ee";
    return lastRed > lastGreen ? "#ee82ee" : "#1e90ff";
  });
svg.append("path").attr("d", polyline(sigUpBars, sigUpVals, h)).attr("fill", "none").attr("stroke", "#c0c0c0").attr("stroke-width", 3);
svg.append("path").attr("d", polyline(sigLowBars, sigLowVals, h)).attr("fill", "none").attr("stroke", "#c0c0c0").attr("stroke-width", 3);

// frame lines
var frameCol = "#b4b8bc";
[[0, 4.5, 4046, 4.5], [0, 1701.5, 4046, 1701.5], [0, 1704.5, 4046, 1704.5], [0, 2094.5, 4046, 2094.5], [1.5, 4, 1.5, 2095], [4045.5, 4, 4045.5, 2095]].forEach(function(f) {
  svg.append("line").attr("x1", f[0]).attr("y1", f[1]).attr("x2", f[2]).attr("y2", f[3]).attr("stroke", frameCol);
});

// price axis
var priceAxis = d3.axisRight(y).tickValues(priceTicks).tickSize(3).tickPadding(1).tickFormat(d3.format(".2f"));
var pg = svg.append("g").attr("transform", "translate(4045.5,0)").call(priceAxis);
pg.select(".domain").remove();
pg.selectAll("line").attr("stroke", frameCol);
pg.selectAll("text").attr("fill", "#c4c8cc").attr("font-size", 9).attr("font-family", sans);

svg.append("rect").attr("x", 4047).attr("y", y(ask) - 5).attr("width", 38).attr("height", 7).attr("fill", "#ff9a1a");
svg.append("rect").attr("x", 4047).attr("y", y(bid) - 4).attr("width", 38).attr("height", 9).attr("fill", "#c0c0c0");
text(svg, d3.format(".2f")(bid), 4049.5, y(bid) + 4, 9, "#101820");

text(svg, "0", 4051, 1714, 10, "#c4c8cc");
text(svg, "0", 4051, 2092, 10, "#c4c8cc");
[1710, 2088].forEach(function(t) {
  svg.append("line").attr("x1", 4045.5).attr("x2", 4049).attr("y1", t).attr("y2", t).attr("stroke", frameCol);
});

// time axis
var tickBars = timeTicks.map(function(d, i) { return i * 8; });
var timeAxis = d3.axisBottom(x).tickValues(tickBars).tickSize(4).tickPadding(1).tickFormat(function(d, i) { return timeTicks[i]; });
var tg = svg.append("g").attr("transform", "translate(0,2094.5)").call(timeAxis);
tg.select(".domain").remove();
tg.selectAll("line").attr("stroke", frameCol);
tg.selectAll("text").attr("fill", "#b0a898").attr("font-size", 10).attr("font-family", sans)
  .attr("text-anchor", "start").attr("textLength", 49).attr("lengthAdjust", "spacingAndGlyphs");

// info box
svg.append("rect").attr("x", 3941.5).attr("y", 15.5).attr("width", 94).attr("height", 198).attr("fill", "#15202c").attr("stroke", "#ffffff");
var cx = 3988.5;
text(svg, "US2000", cx, 45, 26, "#ffffff", { weight: "bold", anchor: "middle", len: 75 });
text(svg, "1763.5", cx, 65, 20, "#00ffff", { font: deja, weight: "bold", anchor: "middle", len: 76 });
text(svg, "SPD:6.0", 4024, 81, 14, "#ffffff", { font: mono, weight: "bold", anchor: "end", len: 62 });
text(svg, "1:15", 4026, 98, 15, "#00ffff", { font: mono, weight: "bold", anchor: "end", len: 38 });
text(svg, "Daily Open", cx, 112, 12.5, "#bbbbbb", { font: deja, weight: "bold", anchor: "middle", len: 76 });
text(svg, "1824.1", cx, 133, 20, "#bbbbbb", { font: mono, weight: "bold", anchor: "middle", len: 63 });
text(svg, "PFO 606", 4025, 149, 15, "#ff80ff", { font: mono, weight: "bold", anchor: "end", len: 66 });
text(svg, "HiLo 840", 4025, 166, 15, "#bbbbbb", { font: mono, weight: "bold", anchor: "end", len: 76 });
text(svg, "ADR 432", 4025, 183, 15, "#ff80ff", { font: mono, weight: "bold", anchor: "end", len: 66 });
text(svg, "140%", 3991, 204, 19, "#ff80ff", { font: deja, weight: "bold", anchor: "middle", len: 51 });

// symbol and period buttons
symbols.forEach(function(s, i) {
  svg.append("rect").attr("x", 3939.5).attr("y", 224.5 + i * 19).attr("width", 71).attr("height", 17).attr("rx", 1).attr("fill", "#15202c").attr("stroke", "#555d65");
  text(svg, s, 3975, 237.5 + i * 19, 13.5, s === "US2000" ? "#00ffff" : "#dddddd", { anchor: "middle" });
});
svg.append("rect").attr("x", 4017.5).attr("y", 225.5).attr("width", 15).attr("height", 15).attr("rx", 1).attr("fill", "#15202c").attr("stroke", "#555d65");
text(svg, "v", 4024.5, 237, 13, "#dddddd", { anchor: "middle" });
periods.forEach(function(p, i) {
  svg.append("rect").attr("x", 4012.5).attr("y", 245.5 + i * 19).attr("width", 25).attr("height", 17).attr("rx", 1).attr("fill", "#15202c").attr("stroke", "#555d65");
  text(svg, p, 4024.5, 259 + i * 19, 13.5, p === "15" ? "#00ffff" : "#dddddd", { anchor: "middle" });
});

// lower right account box
svg.append("rect").attr("x", 3941.5).attr("y", 1459.5).attr("width", 94).attr("height", 193).attr("fill", "#15202c").attr("stroke", "#ffffff");
text(svg, "US2000", cx, 1485, 24, "#ffffff", { weight: "bold", anchor: "middle", len: 75 });
text(svg, "OpenPips", cx, 1510, 15, "#808080", { font: deja, weight: "bold", anchor: "middle", len: 90 });
text(svg, "0.00", 4030, 1538, 18, "#666666", { font: mono, anchor: "end", len: 40 });
text(svg, "OpenPos", cx, 1568, 15, "#808080", { font: deja, weight: "bold", anchor: "middle", len: 85 });
text(svg, "0.00%", 4032, 1591, 16, "#666666", { font: mono, anchor: "end", len: 52 });
text(svg, "Daily P/L", cx, 1618, 15, "#808080", { font: deja, weight: "bold", anchor: "middle", len: 80 });
text(svg, "117.38%", 4032, 1641, 16, "#00ffff", { font: mono, anchor: "end", len: 70 });
text(svg, "XU-v52", 3990, 1674, 17, "#aaaaaa", { font: deja, weight: "bold", anchor: "middle", len: 65 });
text(svg, "Universe", 3990, 1693, 17, "#aaaaaa", { font: deja, weight: "bold", anchor: "middle", len: 81 });

// meter box
svg.append("rect").attr("x", 3847.5).attr("y", 2012.5).attr("width", 189).attr("height", 73).attr("fill", "#606060").attr("stroke", "#f2f2da");
svg.append("rect").attr("x", 3886).attr("y", 2018).attr("width", 145).attr("height", 62).attr("fill", "#15202c");
text(svg, "US2", 3867, 2040, 13, "#ffffff", { font: deja, anchor: "middle" });
text(svg, "000", 3867, 2070, 13, "#ffffff", { font: deja, anchor: "middle" });
var meterY = [2024.5, 2034, 2054, 2064], meterH = [5, 10, 5, 11];
meterCounts.forEach(function(n, r) {
  svg.append("g").selectAll("rect").data(d3.range(n)).enter().append("rect")
    .attr("x", function(d) { return 3889 + d * 7; })
    .attr("y", meterY[r]).attr("width", 6).attr("height", meterH[r])
    .attr("fill", function(d) { return meterColors[d]; });
});
</script>
</body>
</html>
